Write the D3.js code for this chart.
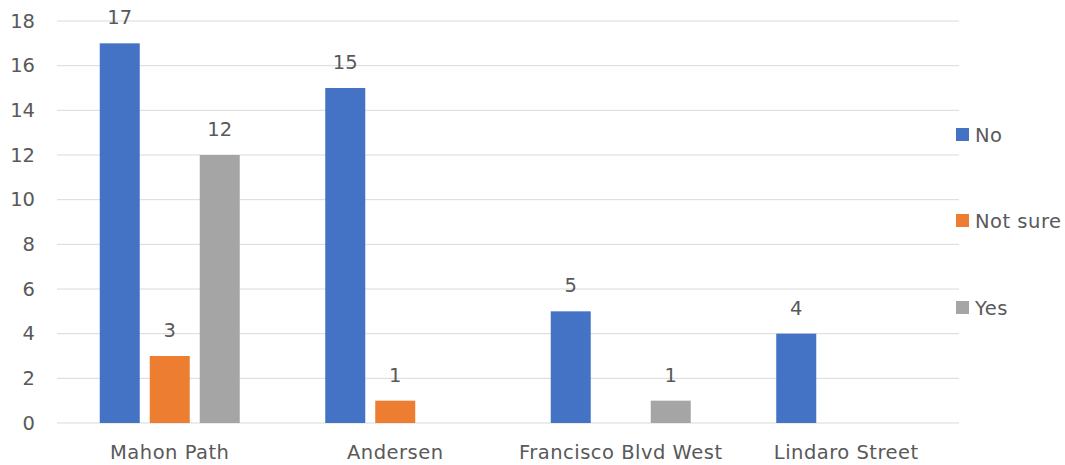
<!DOCTYPE html>
<html>
<head>
<meta charset="utf-8">
<script src="https://cdn.jsdelivr.net/npm/d3@7"></script>
<style>
  html, body { margin: 0; padding: 0; background: #fff; }
  svg text { font-family: "DejaVu Sans", "Open Sans", sans-serif; fill: #595959; }
</style>
</head>
<body>
<svg id="chart" width="1065" height="465"></svg>
<script>
// Survey responses per location
const categories = ["Mahon Path", "Andersen", "Francisco Blvd West", "Lindaro Street"];
const seriesNames = ["No", "Not sure", "Yes"];
const noValues = [17, 15, 5, 4];
const notSureValues = [3, 1, null, null];
const yesValues = [12, null, 1, null];
const yTicks = [0, 2, 4, 6, 8, 10, 12, 14, 16, 18];
const colors = ["#4472C4", "#ED7D31", "#A5A5A5"];

const seriesValues = [noValues, notSureValues, yesValues];
const fontFamily = "\"DejaVu Sans\", \"Open Sans\", sans-serif";
const fontSize = 19.5;
const tracking = "0.5px";

const svg = d3.select("#chart");
const plot = { left: 57, right: 959, top: 21, bottom: 423 };

const x = d3.scaleBand().domain(categories).range([plot.left, plot.right]);
const y = d3.scaleLinear().domain([0, 18]).range([plot.bottom, plot.top]);

const barW = 40, barGap = 10;
const inner = d3.scaleBand().domain(seriesNames)
  .range([-(barW * 1.5 + barGap), barW * 1.5 + barGap]).paddingInner(barGap / (barW + barGap));

// Gridlines
svg.append("g")
  .selectAll("line").data(yTicks).join("line")
  .attr("x1", plot.left).attr("x2", plot.right)
  .attr("y1", d => y(d)).attr("y2", d => y(d))
  .attr("stroke", "#d9d9d9").attr("stroke-width", 1);

// Y axis labels
const yAxis = d3.axisLeft(y).tickValues(yTicks).tickSize(0).tickPadding(0);
const ya = svg.append("g").attr("transform", "translate(35,0)").call(yAxis);
ya.select(".domain").remove();
ya.selectAll("text").attr("font-size", fontSize).style("fill", "#595959")
  .style("font-family", fontFamily);

// X axis labels
const xAxis = d3.axisBottom(x).tickSize(0).tickPadding(0);
const xa = svg.append("g").attr("transform", `translate(0,${plot.bottom + 36})`).call(xAxis);
xa.select(".domain").remove();
xa.selectAll("text").attr("font-size", fontSize).attr("dy", 0).style("fill", "#595959")
  .style("font-family", fontFamily).style("letter-spacing", tracking);

// Bars and value labels
const rows = [];
categories.forEach((c, i) => {
  seriesNames.forEach((s, j) => {
    const v = seriesValues[j][i];
    if (v !== null) rows.push({ c, s, v, color: colors[j] });
  });
});

const cx = c => x(c) + x.bandwidth() / 2;

svg.append("g").selectAll("rect").data(rows).join("rect")
  .attr("x", d => cx(d.c) + inner(d.s))
  .attr("width", inner.bandwidth())
  .attr("y", d => y(d.v))
  .attr("height", d => y(0) - y(d.v))
  .attr("fill", d => d.color);

svg.append("g").selectAll("text").data(rows).join("text")
  .attr("x", d => cx(d.c) + inner(d.s) + inner.bandwidth() / 2)
  .attr("y", d => y(d.v) - 19)
  .attr("text-anchor", "middle")
  .attr("font-size", fontSize)
  .text(d => d.v);

// Legend
const legendY = [135, 221, 308];
const lg = svg.append("g").selectAll("g").data(seriesNames).join("g")
  .attr("transform", (d, i) => `translate(956,${legendY[i]})`);
lg.append("rect").attr("x", 0).attr("y", -7).attr("width", 13).attr("height", 13)
  .attr("fill", (d, i) => colors[i]);
lg.append("text").attr("x", 19).attr("y", 0).attr("dy", "0.35em")
  .attr("font-size", fontSize).style("letter-spacing", tracking).text(d => d);
</script>
</body>
</html>
